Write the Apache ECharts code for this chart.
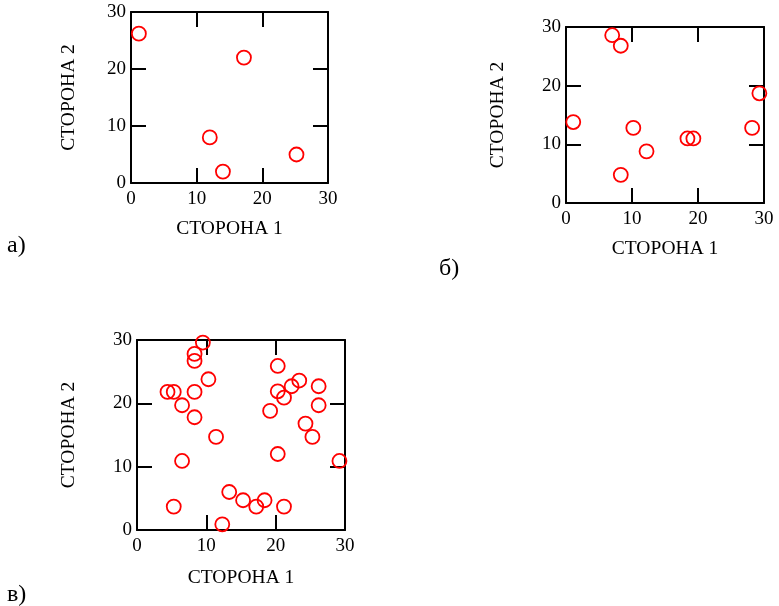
<!DOCTYPE html>
<html>
<head>
<meta charset="utf-8">
<script src="https://cdn.jsdelivr.net/npm/echarts@6/dist/echarts.min.js"></script>
<style>html,body{margin:0;padding:0;background:#fff}#c{width:779px;height:606px}</style>
</head>
<body>
<div id="c"></div>
<script>
// Data
const xTitle = "СТОРОНА 1";
const yTitle = "СТОРОНА 2";
const panelLabels = ["а)", "б)", "в)"];
const pointsA = [[1.2,26.2],[12,8],[17.2,22],[14,2],[25.2,5]];
const pointsB = [[7,28.6],[8.3,26.8],[29.3,18.7],[1.1,13.8],[10.2,12.8],[18.4,11],[19.3,11],[28.2,12.8],[12.2,8.8],[8.3,4.8]];
const pointsC = [[9.5,29.6],[8.3,27.8],[8.3,26.7],[10.3,23.8],[4.4,21.8],[5.3,21.8],[8.3,21.8],[6.5,19.7],[8.3,17.8],[11.4,14.7],
  [6.5,10.9],[5.3,3.7],[12.3,0.9],[13.3,6],[15.3,4.7],[17.2,3.7],[18.4,4.7],[21.2,3.7],[20.3,12],[19.2,18.8],
  [20.3,25.9],[20.3,21.9],[21.2,20.9],[22.3,22.7],[23.4,23.6],[26.2,22.7],[26.2,19.7],[24.3,16.8],[25.3,14.7],[29.2,10.9]];
const axisMin = 0, axisMax = 30, axisStep = 10;

const FONT = "Liberation Serif";
const grids = [
  {left:131, top:12, width:197, height:171},
  {left:566, top:27, width:198, height:176},
  {left:137, top:340, width:208, height:190}
];
const yNameGaps = [52, 58, 58];
const xNameGaps = [36, 36, 38];

const xAxes = [], yAxes = [], series = [];
const datasets = [pointsA, pointsB, pointsC];
grids.forEach((g, i) => {
  const base = {
    gridIndex: i, type: 'value', min: axisMin, max: axisMax, interval: axisStep,
    axisLine: {show: true, onZero: false, lineStyle: {color: '#000', width: 2}},
    axisTick: {show: true, inside: true, length: 15, lineStyle: {color: '#000', width: 2}},
    splitLine: {show: false}
  };
  xAxes.push(Object.assign({}, base, {
    position: 'bottom', name: xTitle, nameLocation: 'middle', nameGap: xNameGaps[i],
    nameTextStyle: {fontFamily: FONT, fontSize: 19.5, color: '#000'},
    axisLabel: {fontFamily: FONT, fontSize: 19, color: '#000', margin: 7}
  }));
  xAxes.push(Object.assign({}, base, {position: 'top', axisLabel: {show: false}}));
  yAxes.push(Object.assign({}, base, {
    position: 'left', name: yTitle, nameLocation: 'middle', nameGap: yNameGaps[i], nameRotate: 90,
    nameTextStyle: {fontFamily: FONT, fontSize: 19.5, color: '#000'},
    axisLabel: {fontFamily: FONT, fontSize: 19, color: '#000', margin: 5}
  }));
  yAxes.push(Object.assign({}, base, {position: 'right', axisLabel: {show: false}}));
  series.push({
    type: 'scatter', xAxisIndex: 2*i, yAxisIndex: 2*i, data: datasets[i],
    symbol: 'circle', symbolSize: 14, clip: false, z: 10,
    itemStyle: {color: 'rgba(0,0,0,0)', borderColor: '#ff0000', borderWidth: 1.8, opacity: 1},
    emphasis: {disabled: true}
  });
});

const chart = echarts.init(document.getElementById('c'), null, {renderer: 'canvas'});
chart.setOption({
  animation: false,
  backgroundColor: '#fff',
  grid: grids.map(g => Object.assign({containLabel: false}, g)),
  xAxis: xAxes,
  yAxis: yAxes,
  series: series,
  graphic: [
    {type: 'text', left: 7, top: 234, style: {text: panelLabels[0], font: '24px "Liberation Serif"', fill: '#000'}},
    {type: 'text', left: 439, top: 257, style: {text: panelLabels[1], font: '24px "Liberation Serif"', fill: '#000'}},
    {type: 'text', left: 7, top: 583, style: {text: panelLabels[2], font: '24px "Liberation Serif"', fill: '#000'}}
  ]
});
</script>
</body>
</html>
